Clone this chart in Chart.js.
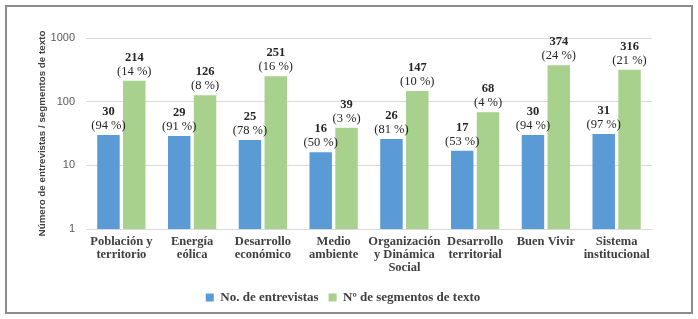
<!DOCTYPE html>
<html lang="es">
<head>
  <meta charset="UTF-8" />
  <title>Entrevistas y segmentos de texto</title>
  <style>
    * { margin: 0; padding: 0; }
    body { width: 698px; height: 319px; background: #fff; overflow: hidden; }
    .chartBox {
      position: absolute;
      left: 5px; top: 5px;
      width: 684px; height: 305px;
      border: 2px solid #8c8c8c;
      background: #fff;
    }
    canvas { position: absolute; left: 0; top: 0; }
  </style>
</head>
<body>
  <div class="chartBox">
    <canvas id="myChart" width="684" height="305"></canvas>
  </div>
  <script src="https://cdn.jsdelivr.net/npm/chart.js@4/dist/chart.umd.min.js"></script>
  <script>
    const categories = [
      ["Población y", "territorio"],
      ["Energía", "eólica"],
      ["Desarrollo", "económico"],
      ["Medio", "ambiente"],
      ["Organización", "y Dinámica", "Social"],
      ["Desarrollo", "territorial"],
      "Buen Vivir",
      ["Sistema", "institucional"]
    ];
    const entrevistas = [30, 29, 25, 16, 26, 17, 30, 31];
    const entrevistasPct = [94, 91, 78, 50, 81, 53, 94, 97];
    const segmentos = [214, 126, 251, 39, 147, 68, 374, 316];
    const segmentosPct = [14, 8, 16, 3, 10, 4, 24, 21];
    const yTicks = [1, 10, 100, 1000];

    const pcts = [entrevistasPct, segmentosPct];
    const serif = '"Liberation Serif", "Times New Roman", serif';
    const sans = '"Liberation Sans", Arial, sans-serif';

    // numbers + percentages over each bar
    const barLabels = {
      id: "barLabels",
      afterDatasetsDraw(chart) {
        const ctx = chart.ctx;
        ctx.save();
        ctx.textAlign = "center";
        ctx.textBaseline = "alphabetic";
        ctx.fillStyle = "#262626";
        chart.data.datasets.forEach((ds, i) => {
          chart.getDatasetMeta(i).data.forEach((bar, j) => {
            ctx.font = "12.5px " + serif;
            ctx.fillText("(" + pcts[i][j] + " %)", bar.x, bar.y - 6);
            ctx.font = "bold 12.5px " + serif;
            ctx.fillText(ds.data[j], bar.x, bar.y - 20);
          });
        });
        ctx.restore();
      }
    };

    const data = {
      labels: categories,
      datasets: [
        {
          label: "No. de entrevistas",
          data: entrevistas,
          backgroundColor: "#5b9bd5",
          borderWidth: 0,
          barPercentage: 0.87,
          categoryPercentage: 0.73
        },
        {
          label: "Nº de segmentos de texto",
          data: segmentos,
          backgroundColor: "#a9d18e",
          borderWidth: 0,
          barPercentage: 0.87,
          categoryPercentage: 0.73
        }
      ]
    };

    const options = {
      responsive: false,
      animation: false,
      layout: { padding: { top: 31, right: 39, left: 27, bottom: -2 } },
      scales: {
        x: {
          grid: { display: false, drawTicks: false },
          border: { color: "#d9d9d9" },
          afterFit(scale) { scale.height = 52; },
          ticks: {
            color: "#404040",
            maxRotation: 0,
            autoSkip: false,
            padding: 6,
            font: { family: serif, size: 12.5, weight: "bold", lineHeight: 1.04 }
          }
        },
        y: {
          type: "logarithmic",
          min: 1,
          max: 1000,
          afterBuildTicks(axis) {
            axis.ticks = yTicks.map(v => ({ value: v }));
          },
          afterFit(scale) { scale.width = 52; },
          grid: { color: "#d9d9d9", drawTicks: false },
          border: { display: false },
          ticks: {
            color: "#595959",
            padding: 11,
            font: { family: sans, size: 11 },
            callback: v => String(v)
          },
          title: {
            display: true,
            text: "Número de entrevistas / segmentos de texto",
            color: "#404040",
            padding: { top: 2, bottom: 4 },
            font: { family: sans, size: 9.8, weight: "bold" }
          }
        }
      },
      plugins: {
        legend: {
          position: "bottom",
          labels: {
            color: "#404040",
            boxWidth: 8,
            boxHeight: 8,
            padding: 10,
            font: { family: serif, size: 13, weight: "bold" }
          }
        },
        tooltip: { enabled: false }
      }
    };

    const ctx = document.getElementById("myChart").getContext("2d");
    const myChart = new Chart(ctx, {
      type: "bar",
      data: data,
      options: options,
      plugins: [barLabels]
    });
  </script>
</body>
</html>
